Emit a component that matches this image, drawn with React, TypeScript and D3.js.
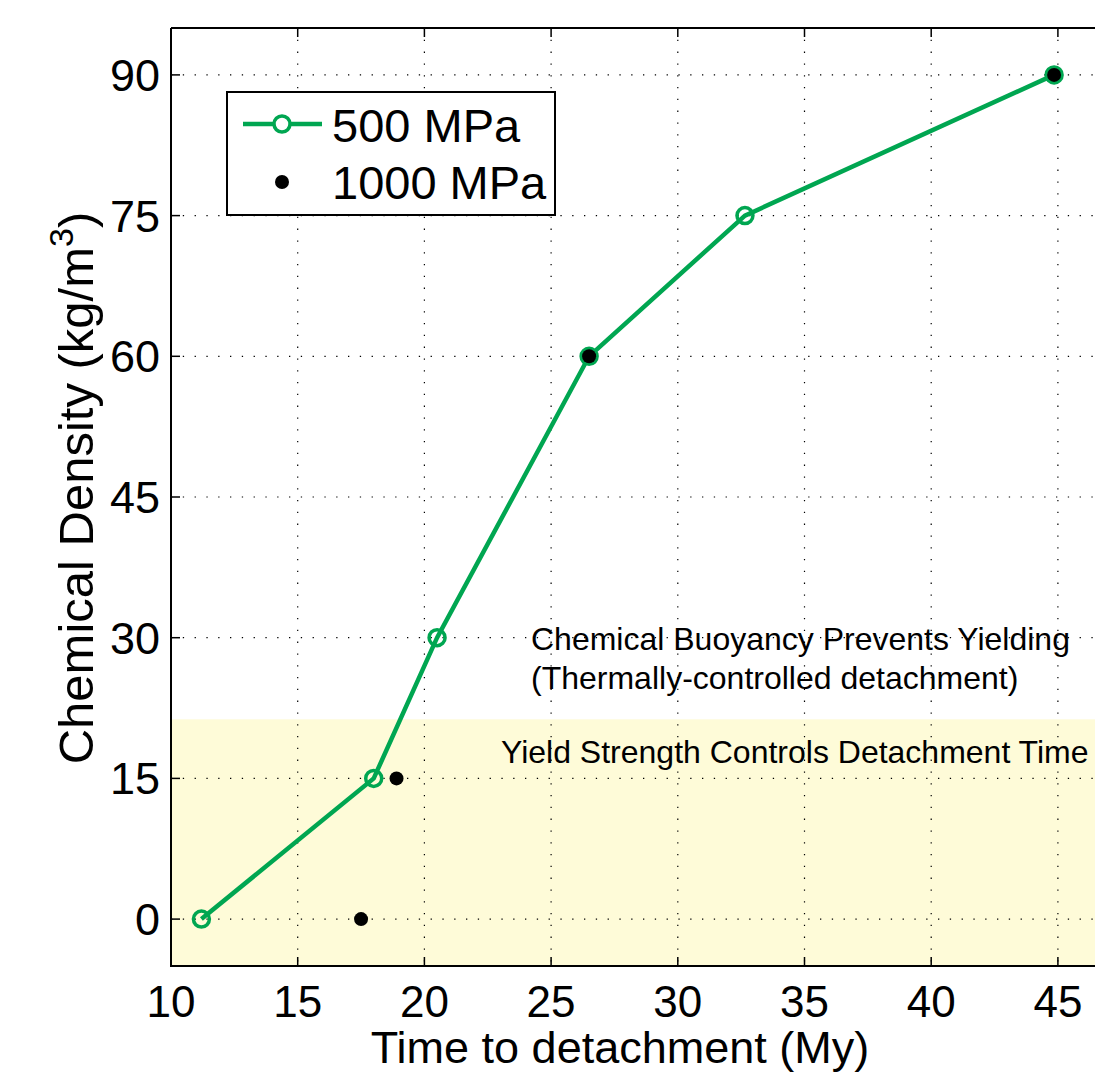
import React from "react";
import * as d3 from "d3";

const xTicks = [10, 15, 20, 25, 30, 35, 40, 45];
const yTicks = [0, 15, 30, 45, 60, 75, 90];
const s500x = [11.2, 18.0, 20.5, 26.5, 32.65, 44.85];
const s500y = [0, 15, 30, 60, 75, 90];
const s1000x = [17.5, 18.9, 26.5, 44.85];
const s1000y = [0, 15, 60, 90];
const yieldLimit = 21.3;
const seriesNames = ["500 MPa", "1000 MPa"];

const W = 1095, H = 1079;
const L = 171, T = 28, B = 966;

export default function App() {
  const x = d3.scaleLinear().domain([10, 47]).range([L, L + 37 * 25.34]);
  const y = d3.scaleLinear().domain([-5, 95]).range([B, T]);
  const line = d3.line<number>().x((_, i) => x(s500x[i])).y((d) => y(d));
  const R = x(47);
  const green = "#00A651";
  const font = "'Liberation Sans', Arial, Helvetica, sans-serif";
  return (
    <svg width={W} height={H} style={{ position: "fixed", left: 0, top: 0, background: "#fff" }} fontFamily={font}>
      <rect x={L} y={y(yieldLimit)} width={R - L} height={B - y(yieldLimit)} fill="#FEFBD8" />
      {xTicks.map((t) => (
        <line key={"gx" + t} x1={x(t)} x2={x(t)} y1={T} y2={B} stroke="#000" strokeWidth={1.2} strokeDasharray="1.3,10.5" />
      ))}
      {yTicks.map((t) => (
        <line key={"gy" + t} x1={L} x2={R} y1={y(t)} y2={y(t)} stroke="#000" strokeWidth={1.2} strokeDasharray="1.3,10.5" />
      ))}
      {xTicks.map((t) => (
        <g key={"tx" + t}>
          <line x1={x(t)} x2={x(t)} y1={T} y2={T + 9} stroke="#000" strokeWidth={1.5} />
          <line x1={x(t)} x2={x(t)} y1={B} y2={B - 9} stroke="#000" strokeWidth={1.5} />
          <text x={x(t)} y={1017} textAnchor="middle" fontSize={44}>{t}</text>
        </g>
      ))}
      {yTicks.map((t) => (
        <g key={"ty" + t}>
          <line x1={L} x2={L + 9} y1={y(t)} y2={y(t)} stroke="#000" strokeWidth={1.5} />
          <text x={160} y={y(t) + 16} textAnchor="end" fontSize={45}>{t}</text>
        </g>
      ))}
      <path d={`M${L},${T}H${R}M${L},${T}V${B}H${R}`} fill="none" stroke="#000" strokeWidth={2} />
      <text x={531} y={650} fontSize={32}>Chemical Buoyancy Prevents Yielding</text>
      <text x={531} y={689} fontSize={32}>(Thermally-controlled detachment)</text>
      <text x={501} y={763} fontSize={32}>Yield Strength Controls Detachment Time</text>
      <path d={line(s500y) || ""} fill="none" stroke={green} strokeWidth={4.5} />
      {s500y.map((v, i) => (
        <circle key={"c" + i} cx={x(s500x[i])} cy={y(v)} r={8} fill="none" stroke={green} strokeWidth={3.5} />
      ))}
      {s1000y.map((v, i) => (
        <circle key={"d" + i} cx={x(s1000x[i])} cy={y(v)} r={7} fill="#000" />
      ))}
      <rect x={227} y={92} width={328} height={123} fill="#fff" stroke="#000" strokeWidth={2} />
      <line x1={243} x2={322} y1={124} y2={124} stroke={green} strokeWidth={4.5} />
      <circle cx={282} cy={124} r={8} fill="#fff" stroke={green} strokeWidth={3.5} />
      <text x={332} y={142} fontSize={47}>{seriesNames[0]}</text>
      <circle cx={282} cy={182} r={7} fill="#000" />
      <text x={332} y={199} fontSize={47}>{seriesNames[1]}</text>
      <text x={620} y={1063} textAnchor="middle" fontSize={45}>Time to detachment (My)</text>
      <text transform="translate(93,488) rotate(-90)" textAnchor="middle" fontSize={49}>
        Chemical Density (kg/m<tspan dy={-20} fontSize={34}>3</tspan><tspan dy={20}>)</tspan>
      </text>
    </svg>
  );
}
